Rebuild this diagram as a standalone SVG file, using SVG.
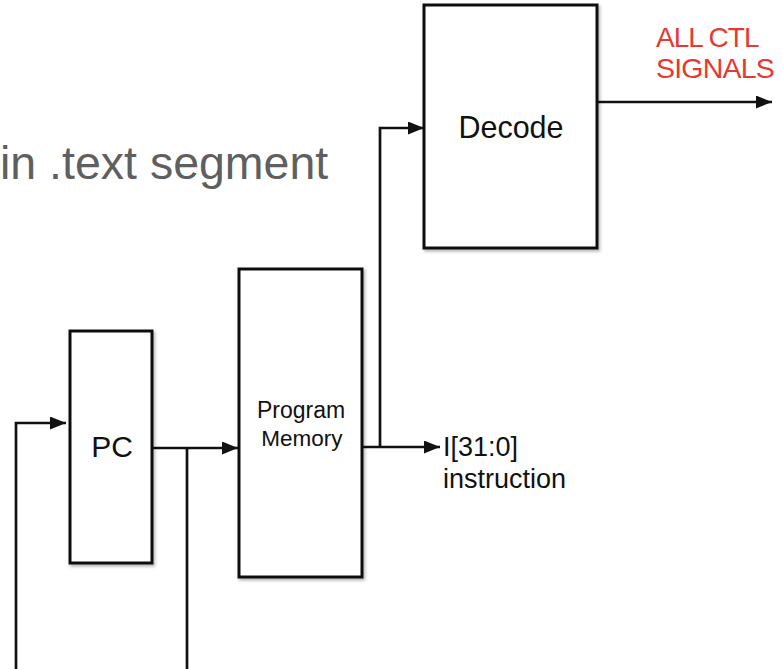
<svg xmlns="http://www.w3.org/2000/svg" width="782" height="669" viewBox="0 0 782 669">
<style>
.box{fill:#fff;stroke:#111;stroke-width:3}
.wire{fill:none;stroke:#111;stroke-width:2.7}
.lbl{font-family:"Liberation Sans",Arial,sans-serif;fill:#111}
</style>
<defs>
<marker id="ah" markerUnits="userSpaceOnUse" markerWidth="17" markerHeight="13" refX="16" refY="6.5" orient="auto">
<path d="M0,0 L16,6.5 L0,13 Z" fill="#111"/>
</marker>
<filter id="sh" x="-10%" y="-10%" width="130%" height="130%">
<feDropShadow dx="1.5" dy="2" stdDeviation="1.5" flood-color="#000" flood-opacity="0.3"/>
</filter>
</defs>
<rect width="782" height="669" fill="#fff"/>
<text x="0" y="179" font-family="Liberation Sans,Arial,sans-serif" font-size="46.5" fill="#5f5f5f">in .text segment</text>
<g id="connectors">
<path class="wire" d="M380,447 V128 H424" marker-end="url(#ah)"/>
<path class="wire" d="M597,102 H772" marker-end="url(#ah)"/>
<path class="wire" d="M362,447 H440" marker-end="url(#ah)"/>
<path class="wire" d="M152,448 H238" marker-end="url(#ah)"/>
<path class="wire" d="M187,448 V669"/>
<path class="wire" d="M16,669 V423 H66" marker-end="url(#ah)"/>
</g>
<g id="decode">
<rect class="box" x="424" y="5" width="173" height="243" filter="url(#sh)"/>
<text class="lbl" x="511" y="138" font-size="30.5" text-anchor="middle">Decode</text>
</g>
<g id="pc">
<rect class="box" x="70" y="331" width="82" height="232" filter="url(#sh)"/>
<text class="lbl" x="112" y="457" font-size="30" text-anchor="middle">PC</text>
</g>
<g id="program-memory">
<rect class="box" x="239" y="269" width="123" height="308" filter="url(#sh)"/>
<text class="lbl" x="301" y="418" font-size="23" text-anchor="middle">Program</text>
<text class="lbl" x="302" y="446" font-size="22.5" text-anchor="middle">Memory</text>
</g>
<g id="ctl-label">
<text x="656" y="47" font-family="Liberation Sans,Arial,sans-serif" font-size="28" letter-spacing="-1" fill="#e53a30">ALL CTL</text>
<text x="656" y="78" font-family="Liberation Sans,Arial,sans-serif" font-size="28.5" letter-spacing="-0.8" fill="#e53a30">SIGNALS</text>
</g>
<g id="instr-label">
<text class="lbl" x="443" y="456" font-size="27">I[31:0]</text>
<text class="lbl" x="443" y="488" font-size="27">instruction</text>
</g>
</svg>
